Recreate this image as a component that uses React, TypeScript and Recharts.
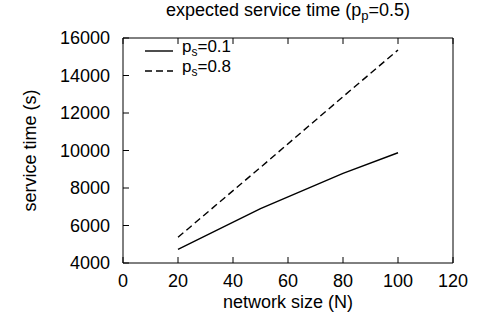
import { LineChart, Line, XAxis, YAxis } from 'recharts';

const networkSize = [20, 50, 80, 100];
const serviceLowPs = [4730, 6900, 8780, 9880];
const serviceHighPs = [5370, 9100, 12870, 15360];
const xTicks = [0, 20, 40, 60, 80, 100, 120];
const yTicks = [4000, 6000, 8000, 10000, 12000, 14000, 16000];
const legendLabels = ['0.1', '0.8'];
const legendDashes = [undefined, '7 4'];

const data = networkSize.map((n, i) => ({ n, low: serviceLowPs[i], high: serviceHighPs[i] }));

const font = '"Liberation Sans", Arial, sans-serif';
const tickStyle = { fill: '#000', fontSize: 18, fontFamily: font };

function LegendBox() {
  return (
    <div style={{ position: 'absolute', left: 145, top: 41, fontFamily: font, fontSize: 17, color: '#000' }}>
      {legendLabels.map((label, i) => (
        <div key={label} style={{ display: 'flex', alignItems: 'center', height: 20 }}>
          <svg width={28} height={4} style={{ marginRight: 9 }}>
            <line x1={0} y1={2} x2={28} y2={2} stroke="#000" strokeWidth={1.4} strokeDasharray={legendDashes[i]} />
          </svg>
          <span style={{ lineHeight: '20px', marginTop: -4 }}>
            p<sub style={{ fontSize: 12, verticalAlign: -4 }}>s</sub>={label}
          </span>
        </div>
      ))}
    </div>
  );
}

export default function App() {
  return (
    <div style={{ position: 'absolute', left: 0, top: 0, width: 483, height: 323, background: '#fff' }}>
      <div
        style={{
          position: 'absolute',
          left: 123,
          width: 330,
          top: 0,
          textAlign: 'center',
          fontFamily: font,
          fontSize: 18,
          color: '#000',
          whiteSpace: 'nowrap',
        }}
      >
        expected service time (p<sub style={{ fontSize: 13, verticalAlign: -4 }}>p</sub>=0.5)
      </div>
      <LineChart width={483} height={323} data={data} margin={{ top: 37, right: 29, bottom: 0, left: 0 }}>
        <XAxis
          xAxisId="b"
          dataKey="n"
          type="number"
          domain={[0, 120]}
          ticks={xTicks}
          height={60}
          tickSize={-6}
          tickMargin={17}
          tick={tickStyle}
          axisLine={{ stroke: '#000' }}
          tickLine={{ stroke: '#000' }}
          label={{ value: 'network size (N)', position: 'insideBottom', offset: 15, style: { ...tickStyle } }}
        />
        <XAxis
          xAxisId="t"
          orientation="top"
          dataKey="n"
          type="number"
          domain={[0, 120]}
          ticks={xTicks}
          height={1}
          tickSize={-6}
          tickFormatter={() => ''}
          axisLine={{ stroke: '#000' }}
          tickLine={{ stroke: '#000' }}
        />
        <YAxis
          yAxisId="l"
          type="number"
          domain={[4000, 16000]}
          ticks={yTicks}
          width={123}
          tickSize={-6}
          tickMargin={19}
          tick={tickStyle}
          axisLine={{ stroke: '#000' }}
          tickLine={{ stroke: '#000' }}
          label={{
            value: 'service time (s)',
            angle: -90,
            position: 'insideLeft',
            offset: 30,
            style: { ...tickStyle, textAnchor: 'middle' },
          }}
        />
        <YAxis
          yAxisId="r"
          orientation="right"
          type="number"
          domain={[4000, 16000]}
          ticks={yTicks}
          width={1}
          tickSize={-6}
          tickFormatter={() => ''}
          axisLine={{ stroke: '#000' }}
          tickLine={{ stroke: '#000' }}
        />
        <Line
          xAxisId="b"
          yAxisId="l"
          dataKey="low"
          stroke="#000"
          strokeWidth={1.4}
          dot={false}
          isAnimationActive={false}
        />
        <Line
          xAxisId="b"
          yAxisId="l"
          dataKey="high"
          stroke="#000"
          strokeWidth={1.4}
          strokeDasharray="7 4"
          dot={false}
          isAnimationActive={false}
        />
      </LineChart>
      <LegendBox />
    </div>
  );
}
